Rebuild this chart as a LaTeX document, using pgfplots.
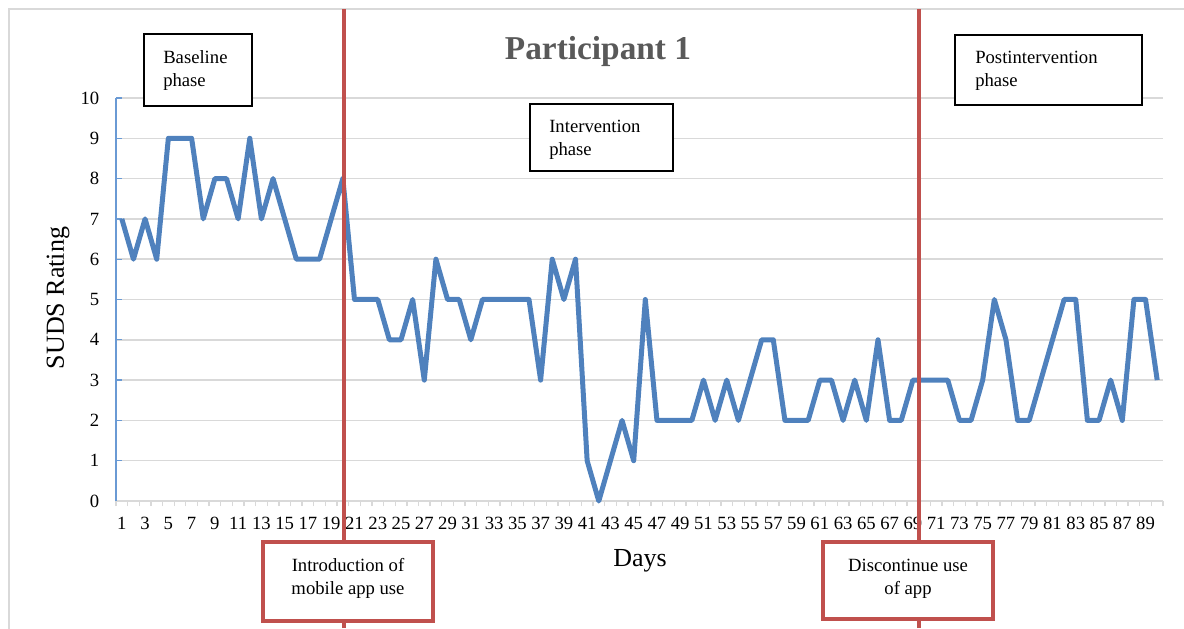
\documentclass[border=0pt]{standalone}
\usepackage{pgfplots}
\pgfplotsset{compat=1.18}
\usepackage{fontspec}
\setmainfont{Liberation Serif}
\definecolor{lineblue}{HTML}{4F81BD}
\definecolor{axisblue}{HTML}{6A9AD4}
\definecolor{redline}{HTML}{C0504D}
\definecolor{gridgray}{HTML}{D9D9D9}
\definecolor{titlegray}{HTML}{595959}
\begin{document}
\begin{tikzpicture}[x=0.75pt,y=0.75pt]
\path[use as bounding box] (0,0) rectangle (1184,628);
\draw[gridgray, line width=1.2pt] (9,-10) -- (9,619) -- (1200,619);
\begin{axis}[
  at={(87pt,95.25pt)}, anchor=south west,
  scale only axis, width=785.25pt, height=302.25pt,
  xmin=0.5, xmax=90.5, ymin=0, ymax=10,
  axis lines*=left,
  x axis line style={draw=gridgray, line width=1.1pt},
  y axis line style={draw=axisblue, line width=1.1pt},
  xtick={1,3,...,89},
  minor xtick={0.5,1.5,...,90.5},
  ytick={0,1,...,10},
  xtick align=outside,
  ytick align=inside,
  major tick length=4.5pt,
  minor tick length=3.75pt,
  major x tick style={draw=none},
  minor x tick style={draw=gridgray, line width=1pt},
  major y tick style={draw=axisblue, line width=1pt},
  ymajorgrids,
  major grid style={draw=gridgray, line width=1.1pt},
  tick label style={font=\fontsize{14}{16}\selectfont, text=black},
  /pgf/number format/assume math mode=true,
  xticklabel style={yshift=-4pt},
  yticklabel style={xshift=-9pt},
  clip=false,
]
\addplot[lineblue, line width=3.75pt, line join=round] coordinates {
(1,7) (2,6) (3,7) (4,6) (5,9) (6,9) (7,9) (8,7) (9,8) (10,8)
(11,7) (12,9) (13,7) (14,8) (15,7) (16,6) (17,6) (18,6) (19,7) (20,8)
(21,5) (22,5) (23,5) (24,4) (25,4) (26,5) (27,3) (28,6) (29,5) (30,5)
(31,4) (32,5) (33,5) (34,5) (35,5) (36,5) (37,3) (38,6) (39,5) (40,6)
(41,1) (42,0) (43,1) (44,2) (45,1) (46,5) (47,2) (48,2) (49,2) (50,2)
(51,3) (52,2) (53,3) (54,2) (55,3) (56,4) (57,4) (58,2) (59,2) (60,2)
(61,3) (62,3) (63,2) (64,3) (65,2) (66,4) (67,2) (68,2) (69,3) (70,3)
(71,3) (72,3) (73,2) (74,2) (75,3) (76,5) (77,4) (78,2) (79,2) (80,3)
(81,4) (82,5) (83,5) (84,2) (85,2) (86,3) (87,2) (88,5) (89,5) (90,3)
};
\end{axis}
% phase change lines
\draw[redline, line width=3.5pt] (344,0) -- (344,619);
\draw[redline, line width=3.5pt] (919,0) -- (919,619);
% phase boxes
\draw[black, line width=1.4pt, fill=white] (144,522) rectangle (252,594);
\node[anchor=base west, inner sep=0, font=\fontsize{14}{16}\selectfont] at (163,564) {Baseline};
\node[anchor=base west, inner sep=0, font=\fontsize{14}{16}\selectfont] at (163,541) {phase};
\draw[black, line width=1.4pt, fill=white] (530,457) rectangle (673,524);
\node[anchor=base west, inner sep=0, font=\fontsize{14}{16}\selectfont] at (549,495) {Intervention};
\node[anchor=base west, inner sep=0, font=\fontsize{14}{16}\selectfont] at (549,472) {phase};
\draw[black, line width=1.4pt, fill=white] (955,523) rectangle (1142,593);
\node[anchor=base west, inner sep=0, font=\fontsize{14}{16}\selectfont] at (975,564) {Postintervention};
\node[anchor=base west, inner sep=0, font=\fontsize{14}{16}\selectfont] at (975,541) {phase};
% event boxes
\draw[redline, line width=3pt, fill=white] (263,7) rectangle (433,86);
\node[anchor=base, inner sep=0, font=\fontsize{14}{16}\selectfont] at (348,56) {Introduction of};
\node[anchor=base, inner sep=0, font=\fontsize{14}{16}\selectfont] at (348,34) {mobile app use};
\draw[redline, line width=3pt, fill=white] (823,9) rectangle (993,86);
\node[anchor=base, inner sep=0, font=\fontsize{14}{16}\selectfont] at (908,56) {Discontinue use};
\node[anchor=base, inner sep=0, font=\fontsize{14}{16}\selectfont] at (908,34) {of app};
% titles
\node[anchor=base, inner sep=0, font=\fontsize{25}{28}\selectfont\bfseries, text=titlegray] at (598,568) {Participant 1};
\node[anchor=base, inner sep=0, font=\fontsize{19.5}{22}\selectfont] at (640,61) {Days};
\node[rotate=90, inner sep=0, font=\fontsize{19.5}{22}\selectfont] at (58,330) {SUDS Rating};
\end{tikzpicture}
\end{document}
